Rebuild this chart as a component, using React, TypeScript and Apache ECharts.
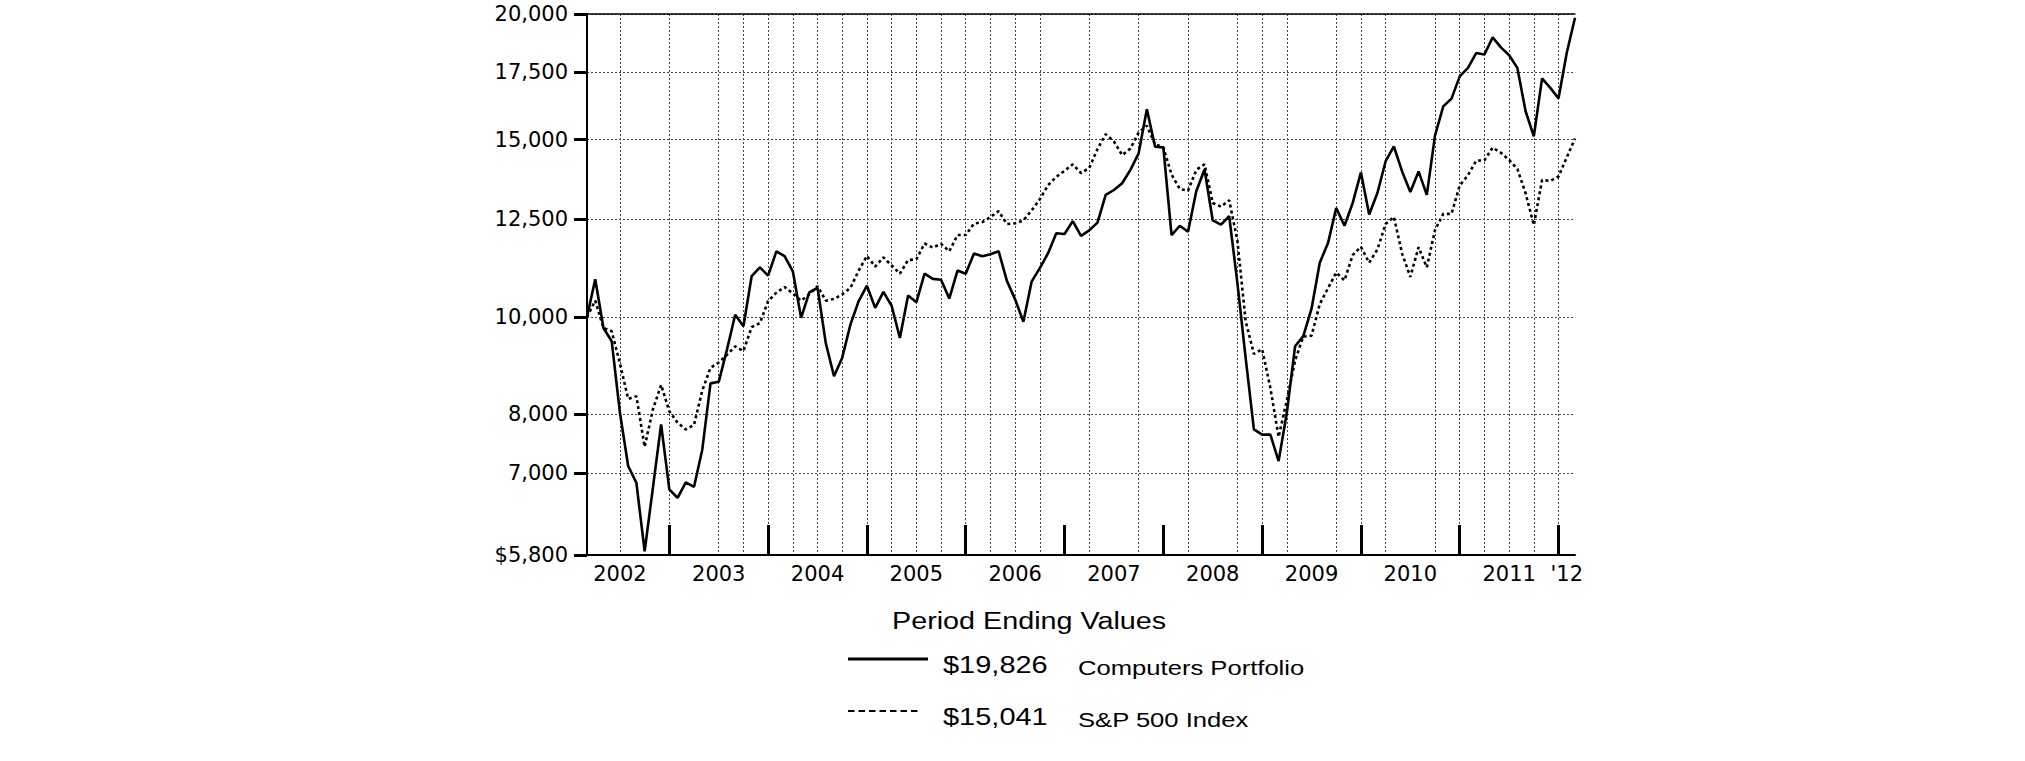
import React, { useEffect, useRef } from "react";
import * as echarts from "echarts";

// Monthly period-ending values, Feb 2002 (index 0) to Feb 2012 (index 120)
const computers = [
  10000, 10900, 9750, 9460, 8030, 7110, 6840, 5850, 6760, 7820, 6740, 6610,
  6850, 6780, 7380, 8590, 8620, 9280, 10050, 9790, 10980, 11200, 10990, 11620,
  11490, 11100, 9980, 10580, 10690, 9420, 8730, 9110, 9830, 10370, 10740, 10210,
  10590, 10260, 9530, 10500, 10340, 11040, 10910, 10890, 10430, 11120, 11040, 11560,
  11490, 11540, 11620, 10860, 10410, 9890, 10840, 11180, 11570, 12110, 12090, 12450,
  12040, 12190, 12410, 13220, 13370, 13580, 14000, 14540, 16080, 14760, 14740, 12060,
  12320, 12150, 13330, 14010, 12470, 12350, 12590, 10800, 9100, 7730, 7640, 7640,
  7190, 8030, 9350, 9570, 10190, 11320, 11840, 12830, 12320, 12980, 13920, 12640,
  13280, 14280, 14770, 13950, 13310, 13950, 13220, 15150, 16190, 16480, 17340, 17680,
  18290, 18230, 18960, 18530, 18200, 17680, 16010, 15120, 17260, 16890, 16490, 18300,
  19826,
];
const sp500 = [
  10000, 10380, 9750, 9680, 8990, 8290, 8340, 7430, 8090, 8560, 8060, 7850,
  7730, 7810, 8450, 8900, 9010, 9170, 9350, 9250, 9770, 9860, 10370, 10570,
  10710, 10550, 10380, 10530, 10730, 10380, 10420, 10530, 10690, 11120, 11500, 11220,
  11460, 11250, 11040, 11390, 11410, 11830, 11720, 11820, 11620, 12060, 12060, 12380,
  12420, 12570, 12740, 12370, 12390, 12470, 12760, 13090, 13520, 13780, 13970, 14180,
  13900, 14060, 14680, 15190, 14940, 14480, 14700, 15250, 15490, 14840, 14740, 13850,
  13400, 13350, 14000, 14180, 12980, 12870, 13060, 11900, 9900, 9190, 9290, 8500,
  7600, 8260, 9050, 9560, 9580, 10300, 10680, 11070, 10870, 11520, 11740, 11320,
  11670, 12370, 12570, 11560, 10960, 11730, 11200, 12200, 12660, 12660, 13510, 13830,
  14300, 14310, 14730, 14560, 14320, 14030, 13270, 12340, 13680, 13650, 13790, 14410,
  15041,
];
const seriesNames = ["Computers Portfolio", "S&P 500 Index"];
const legendTitle = "Period Ending Values";
const yTicks = [5800, 7000, 8000, 10000, 12500, 15000, 17500, 20000];
const yearLabels = ["2002", "2003", "2004", "2005", "2006", "2007", "2008", "2009", "2010", "2011", "'12"];
const yearLabelMonths = [4, 16, 28, 40, 52, 64, 76, 88, 100, 112, 119];
const yearEndMonths = [10, 22, 34, 46, 58, 70, 82, 94, 106, 118];
const gridMonths = [4, 10, 16, 19, 22, 25, 28, 31, 34, 37, 40, 43, 46, 49, 52, 55, 61, 67, 73, 79, 82, 85, 91, 94, 97, 103, 106, 109, 112, 115, 118];

const L = Math.log;
const fmt = (v: number) => v.toLocaleString("en-US");

export default function App() {
  const ref = useRef<HTMLDivElement>(null);
  useEffect(() => {
    if (!ref.current) return;
    const chart = echarts.init(ref.current, undefined, { renderer: "svg" });
    const axisFont = { fontFamily: "DejaVu Sans", fontSize: 21, color: "#000" };
    const dash = { type: [2, 2] as any, color: "#444", width: 1 };
    const yLabel = (v: number) => {
      let best = yTicks[0];
      yTicks.forEach((t) => {
        if (Math.abs(L(t) - v) < Math.abs(L(best) - v)) best = t;
      });
      return best === yTicks[0] ? "$" + fmt(best) : fmt(best);
    };
    const legFont = "Liberation Sans";
    const rows = [
      { y: 659, value: computers[computers.length - 1], name: seriesNames[0], solid: true },
      { y: 711, value: sp500[sp500.length - 1], name: seriesNames[1], solid: false },
    ];
    const graphic: any[] = [
      {
        type: "text", x: 892, y: 621, scaleX: 1.25,
        style: { text: legendTitle, x: 0, y: 0, fontSize: 23, fontFamily: legFont, fill: "#000", align: "left", verticalAlign: "middle" },
      },
    ];
    rows.forEach((r) => {
      graphic.push({
        type: "line",
        shape: { x1: 848, y1: r.y, x2: r.solid ? 928 : 920, y2: r.y },
        style: r.solid ? { stroke: "#000", lineWidth: 3 } : { stroke: "#000", lineWidth: 2, lineDash: [6.5, 4] },
      });
      graphic.push({
        type: "text", x: 943, y: r.y + 6, scaleX: 1.26,
        style: { text: "$" + fmt(r.value), x: 0, y: 0, fontSize: 23, fontFamily: legFont, fill: "#000", align: "left", verticalAlign: "middle" },
      });
      graphic.push({
        type: "text", x: 1078, y: r.y + 9, scaleX: 1.22,
        style: { text: r.name, x: 0, y: 0, fontSize: 21, fontFamily: legFont, fill: "#000", align: "left", verticalAlign: "middle" },
      });
    });

    chart.setOption({
      animation: false,
      backgroundColor: "#fff",
      grid: { left: 587, right: 450, top: 14, bottom: 206, containLabel: false },
      xAxis: [
        {
          type: "value", min: 0, max: 120, position: "bottom",
          axisLine: { show: true, onZero: false, lineStyle: { color: "#000", width: 2 } },
          axisTick: { show: true, inside: true, length: 30, customValues: yearEndMonths, lineStyle: { color: "#000", width: 3 } },
          axisLabel: {
            show: true, customValues: yearLabelMonths, margin: 8, ...axisFont,
            formatter: (v: number) => yearLabels[yearLabelMonths.indexOf(Math.round(v))] ?? "",
          },
          splitLine: { show: false },
        },
        {
          type: "value", min: 0, max: 120, position: "bottom",
          axisLine: { show: false }, axisLabel: { show: false },
          axisTick: { show: false, customValues: gridMonths },
          splitLine: { show: true, lineStyle: dash },
        },
        {
          type: "value", min: 0, max: 120, position: "top",
          axisLine: { show: true, lineStyle: { color: "#000", width: 1.5 } },
          axisTick: { show: false }, axisLabel: { show: false }, splitLine: { show: false },
        },
      ],
      yAxis: {
        type: "value", min: L(5800), max: L(20000),
        axisLine: { show: true, lineStyle: { color: "#000", width: 2 } },
        axisTick: { show: true, customValues: yTicks.map(L), length: 13, lineStyle: { color: "#000", width: 3 } },
        axisLabel: { show: true, customValues: yTicks.map(L), margin: 19, formatter: yLabel, ...axisFont },
        splitLine: { show: true, lineStyle: dash },
      },
      series: [
        {
          name: seriesNames[0], type: "line", xAxisIndex: 0, showSymbol: false, z: 4,
          lineStyle: { color: "#000", width: 2.6 },
          data: computers.map((v, i) => [i, L(v)]),
        },
        {
          name: seriesNames[1], type: "line", xAxisIndex: 0, showSymbol: false, z: 3,
          lineStyle: { color: "#000", width: 2.6, type: [3, 3] },
          data: sp500.map((v, i) => [i, L(v)]),
        },
      ],
      graphic,
    });
    return () => chart.dispose();
  }, []);
  return <div ref={ref} style={{ position: "fixed", left: 0, top: 0, width: 2025, height: 761, background: "#fff" }} />;
}
